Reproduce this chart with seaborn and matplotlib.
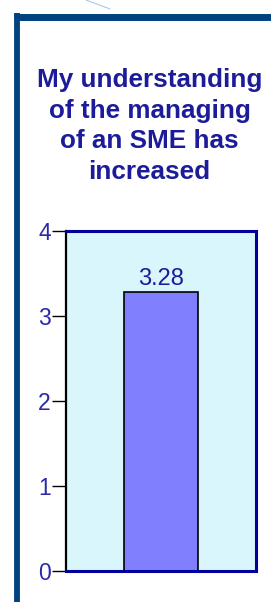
import pandas as pd
import matplotlib.pyplot as plt
import seaborn as sns
from matplotlib.lines import Line2D

# Chart data
categories = ["SME understanding"]
scores = [3.28]
y_ticks = [0, 1, 2, 3, 4]
title = "My understanding\nof the managing\nof an SME has\nincreased"

df = pd.DataFrame({"item": categories, "score": scores})

sns.set_style("white")
plt.rcParams['font.family'] = ['Liberation Sans', 'DejaVu Sans']

fig = plt.figure(figsize=(2.71, 6.02), dpi=100)
W, H = 271, 602

# slide frame lines
frame_col = "#00427F"
fig.add_artist(Line2D([16.5 / W, 16.5 / W], [0, 1 - 13 / H], transform=fig.transFigure,
                      color=frame_col, lw=4.2, solid_capstyle="butt"))
fig.add_artist(Line2D([14 / W, 1], [1 - 16.5 / H, 1 - 16.5 / H], transform=fig.transFigure,
                      color=frame_col, lw=5.0, solid_capstyle="butt"))
fig.add_artist(Line2D([86 / W, 110 / W], [1, 1 - 9 / H], transform=fig.transFigure,
                      color="#A9C8E8", lw=0.8))

fig.text(0.552, 1 - 126 / H, title, ha="center", va="center", fontsize=18.8,
         fontweight="bold", color="#1C1C9A", linespacing=1.36)

ax = fig.add_axes([66 / W, 1 - 571 / H, 190 / W, 340 / H])
ax.set_facecolor("#D9F6FC")
sns.barplot(data=df, x="item", y="score", color="#8080FF", edgecolor="black",
            linewidth=1.2, width=0.39, saturation=1, ax=ax)

for p, v in zip(ax.patches, scores):
    ax.text(p.get_x() + p.get_width() / 2, v + 0.03, f"{v:.2f}", ha="center", va="bottom",
            fontsize=17, color="#1C1C9A")

ax.set_ylim(0, 4)
ax.set_xlim(-0.5, 0.5)
ax.set_yticks(y_ticks)
ax.set_yticklabels([str(t) for t in y_ticks], fontsize=16.5, color="#2A2AA8")
ax.set_xticks([])
ax.set_xlabel("")
ax.set_ylabel("")
ax.tick_params(axis="y", direction="out", length=10, width=1, color="black", pad=1, left=True)

for side in ["top", "right", "bottom"]:
    ax.spines[side].set_color("#00009A")
    ax.spines[side].set_linewidth(2.2)
ax.spines["left"].set_color("black")
ax.spines["left"].set_linewidth(1.6)

fig.savefig("out.png", dpi=100)
